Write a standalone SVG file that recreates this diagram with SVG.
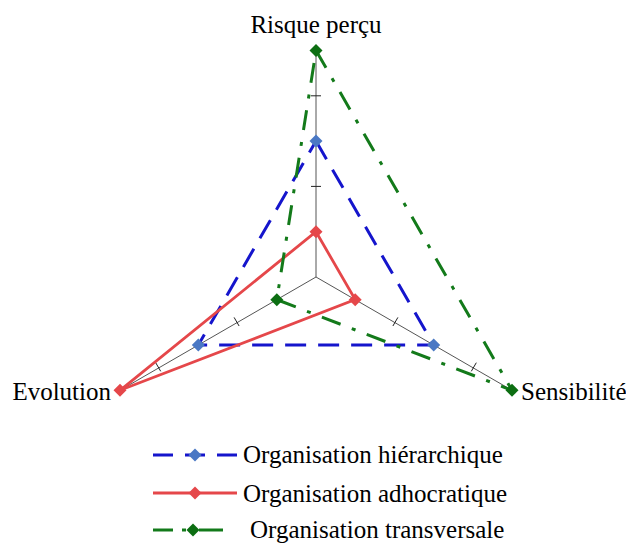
<svg xmlns="http://www.w3.org/2000/svg" width="626" height="543" viewBox="0 0 626 543">
<defs>
<style>
text{font-family:"Liberation Serif","Times New Roman",serif;font-size:25px;fill:#000}
.axis{stroke:#555;stroke-width:1;fill:none}
.tick{stroke:#222;stroke-width:1}
.hier{stroke:#1515cc;stroke-width:3;fill:none;stroke-dasharray:21 12}
.adho{stroke:#e5474a;stroke-width:2.8;fill:none}
.trans{stroke:#137a1a;stroke-width:3;fill:none;stroke-dasharray:20 12 4 12}
.dh{fill:#4a78c4}
.da{fill:#e5474a}
.dt{fill:#0c6e12}
</style>
<path id="dm" d="M0,-6.5 L6.5,0 L0,6.5 L-6.5,0Z"/>
</defs>
<rect width="626" height="543" fill="#fff"/>
<g id="axes">
<line class="axis" x1="316" y1="277" x2="316" y2="50.5"/>
<line class="axis" x1="316" y1="277" x2="512" y2="390.3"/>
<line class="axis" x1="316" y1="277" x2="120" y2="390.3"/>
<line class="tick" x1="311" y1="186.4" x2="321" y2="186.4"/>
<line class="tick" x1="311" y1="95.8" x2="321" y2="95.8"/>
<line class="tick" x1="392.9" y1="326" x2="397.9" y2="317.4"/>
<line class="tick" x1="471.3" y1="371.3" x2="476.3" y2="362.7"/>
<line class="tick" x1="239.1" y1="326" x2="234.1" y2="317.4"/>
<line class="tick" x1="160.7" y1="371.3" x2="155.7" y2="362.7"/>
</g>
<g id="labels">
<text x="316" y="33" text-anchor="middle">Risque perçu</text>
<text x="111" y="400" text-anchor="end">Evolution</text>
<text x="521" y="400">Sensibilité</text>
</g>
<g id="connectors">
<polygon class="hier" points="316,141.1 433.7,345 198.3,345"/>
<polygon class="adho" points="316,231.7 355.2,299.65 120,390.3"/>
<polygon class="trans" points="316,50.5 512,390.3 276.8,299.65"/>
</g>
<g id="series-hierarchique">
<use href="#dm" class="dh" x="316" y="141.1"/>
<use href="#dm" class="dh" x="433.7" y="345"/>
<use href="#dm" class="dh" x="198.3" y="345"/>
</g>
<g id="series-adhocratique">
<use href="#dm" class="da" x="316" y="231.7"/>
<use href="#dm" class="da" x="355.2" y="299.65"/>
<use href="#dm" class="da" x="120" y="390.3"/>
</g>
<g id="series-transversale">
<use href="#dm" class="dt" x="316" y="50.5"/>
<use href="#dm" class="dt" x="512" y="390.3"/>
<use href="#dm" class="dt" x="276.8" y="299.65"/>
</g>
<g id="legend">
<line class="hier" x1="153" y1="455" x2="237" y2="455" style="stroke-dasharray:20 12"/>
<use href="#dm" class="dh" x="195" y="455"/>
<text x="243" y="463">Organisation hiérarchique</text>
<line class="adho" x1="153" y1="493" x2="237" y2="493"/>
<use href="#dm" class="da" x="195" y="493"/>
<text x="243" y="502">Organisation adhocratique</text>
<line class="trans" x1="153" y1="530" x2="173" y2="530" style="stroke-dasharray:none"/>
<line class="trans" x1="182" y1="530" x2="186" y2="530" style="stroke-dasharray:none"/>
<line class="trans" x1="199" y1="530" x2="223" y2="530" style="stroke-dasharray:none"/>
<use href="#dm" class="dt" x="193" y="530"/>
<text x="250" y="538">Organisation transversale</text>
</g>
</svg>
